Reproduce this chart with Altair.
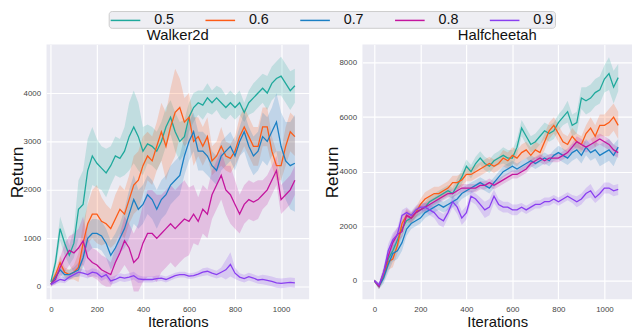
import altair as alt
import pandas as pd

iters = list(range(0, 1061, 20))  # 54 sample iterations
ratios = ["0.5", "0.6", "0.7", "0.8", "0.9"]
colors = ["#1fa99c", "#fd5b16", "#1a7fc4", "#c4159e", "#8a3ff0"]

# ---------------- Walker2d (mean returns) ----------------
walker_05 = [100, 500, 1200, 900, 650, 900, 1600, 1700, 2400, 2700,
             2550, 2450, 2350, 2500, 2700, 2650, 2800, 3100, 3300, 3100,
             2800, 2950, 2900, 2800, 3000, 3300, 3500, 3200, 3000, 3100,
             3500, 3700, 3800, 3750, 3900, 3800, 3900, 3800, 3700, 3800,
             3700, 3800, 3600, 3800, 3900, 4000, 4100, 4000, 4200, 4300,
             4350, 4200, 4050, 4150]
walker_06 = [50, 250, 500, 300, 250, 300, 400, 900, 1300, 1500,
             1500, 1350, 1300, 1200, 1400, 1600, 1500, 1800, 2100, 2200,
             2500, 2700, 2600, 2900, 3200, 2900, 3300, 3600, 3700, 3400,
             3500, 3000, 3100, 2900, 3100, 2600, 2700, 2900, 2700, 2650,
             2800, 3100, 3300, 3100, 2900, 2900, 3300, 3300, 2800, 2500,
             2500, 2900, 3200, 3100]
walker_07 = [50, 200, 350, 250, 250, 300, 350, 600, 1000, 1100,
             1100, 1050, 900, 650, 800, 1000, 1200, 1500, 1800, 1600,
             1700, 1900, 1800, 1600, 1800, 1900, 2100, 2200, 2300, 2700,
             3000, 3200, 2800, 2800, 2700, 2500, 2400, 2700, 2800, 2900,
             2700, 3000, 3200, 2900, 2700, 2800, 3100, 3000, 3200, 3400,
             2900, 2600, 2500, 2550]
walker_08 = [50, 150, 400, 600, 750, 700, 800, 950, 600, 500,
             450, 350, 300, 250, 500, 700, 950, 800, 500, 600,
             900, 1100, 1100, 1000, 1100, 1200, 1300, 1200, 1300, 1400,
             1350, 1500, 1350, 1600, 1500, 1900, 2100, 2300, 2000, 1900,
             1700, 1500, 1700, 1800, 1750, 1800, 1900, 2000, 2200, 2400,
             1800, 1900, 2000, 2200]
walker_09 = [50, 100, 150, 130, 200, 250, 300, 280, 250, 300,
             280, 200, 250, 120, 150, 200, 180, 200, 230, 160,
             150, 150, 150, 170, 180, 150, 190, 230, 250, 250,
             220, 230, 260, 300, 320, 280, 250, 300, 350, 460,
             280, 200, 170, 210, 180, 140, 150, 130, 110, 80,
             70, 80, 90, 80]

# Walker2d band half-widths
walker_05_sd = [50, 150, 250, 250, 200, 300, 600, 700, 650, 600,
                500, 450, 500, 400, 400, 400, 500, 700, 750, 700,
                500, 400, 400, 400, 400, 400, 350, 400, 400, 350,
                300, 300, 250, 300, 300, 250, 250, 300, 250, 250,
                250, 250, 200, 250, 300, 300, 300, 350, 350, 350,
                400, 400, 400, 350]
walker_06_sd = [50, 100, 150, 100, 100, 150, 300, 400, 400, 500,
                600, 500, 400, 400, 500, 500, 500, 500, 600, 600,
                600, 500, 500, 500, 600, 700, 800, 900, 600, 500,
                500, 500, 400, 400, 400, 300, 300, 400, 300, 300,
                300, 400, 400, 400, 400, 400, 400, 400, 300, 300,
                300, 400, 400, 400]
walker_07_sd = [50, 100, 100, 100, 100, 100, 150, 200, 300, 300,
                300, 300, 300, 300, 300, 300, 400, 500, 500, 400,
                400, 400, 400, 400, 400, 400, 400, 400, 400, 400,
                400, 400, 400, 400, 400, 300, 300, 300, 300, 300,
                300, 300, 400, 400, 400, 400, 500, 500, 500, 600,
                700, 800, 900, 1000]
walker_08_sd = [50, 100, 200, 300, 300, 400, 400, 500, 400, 300,
                300, 300, 300, 250, 300, 400, 500, 500, 600, 700,
                800, 900, 900, 900, 800, 800, 800, 800, 800, 800,
                700, 600, 500, 500, 500, 500, 500, 500, 500, 600,
                500, 400, 400, 400, 400, 400, 300, 300, 300, 300,
                300, 300, 300, 300]
walker_09_sd = [30, 50, 60, 60, 60, 60, 80, 80, 80, 80,
                80, 80, 80, 80, 80, 80, 80, 80, 80, 80,
                60, 60, 60, 60, 60, 60, 60, 60, 60, 60,
                60, 60, 60, 80, 80, 80, 80, 100, 200, 250,
                120, 80, 80, 80, 80, 80, 100, 100, 100, 100,
                100, 100, 100, 100]

# ---------------- Halfcheetah (mean returns) ----------------
cheetah_05 = [0, -200, 200, 800, 1100, 1500, 1900, 2200, 2300, 2500,
              2600, 2700, 2900, 3000, 3100, 3200, 3300, 3200, 3500, 3800,
              4200, 4000, 4300, 4500, 4300, 4200, 4400, 4500, 4600, 4500,
              4500, 4900, 5600, 5300, 5000, 5100, 5300, 5500, 5400, 5500,
              5800, 6000, 6200, 5700, 5800, 6700, 6600, 6700, 6900, 7000,
              7400, 7600, 7100, 7450]
cheetah_06 = [0, -200, 200, 700, 800, 1300, 2100, 2400, 2300, 2500,
              2800, 3000, 3100, 3200, 3200, 3300, 3400, 3600, 3600, 3700,
              3900, 3900, 4000, 4100, 4200, 4300, 4200, 4300, 4500, 4400,
              4600, 4500, 4700, 4800, 4600, 4800, 4700, 5100, 5500, 5700,
              5400, 5100, 5000, 5300, 5100, 5000, 5400, 5600, 5300, 5700,
              5700, 5800, 6000, 5700]
cheetah_07 = [0, -200, 100, 600, 1000, 1100, 1400, 1900, 2100, 2200,
              2300, 2500, 2600, 2700, 2800, 2700, 2800, 2900, 3000, 3200,
              3300, 3400, 3500, 3600, 3500, 3400, 3600, 3800, 4000, 4100,
              4200, 4100, 4200, 4300, 4400, 4300, 4400, 4500, 4400, 4600,
              4700, 4600, 4500, 4700, 4800, 4600, 4900, 4700, 4800, 4600,
              4700, 4800, 4600, 4900]
cheetah_08 = [0, -200, 300, 900, 1400, 1700, 1800, 2400, 2300, 2500,
              2600, 2700, 2800, 2900, 3000, 3100, 3200, 3200, 3300, 3400,
              3400, 3400, 3400, 3500, 3500, 3600, 3500, 3600, 3700, 3800,
              3900, 3900, 4000, 4100, 4300, 4400, 4500, 4400, 4500, 4500,
              4500, 4600, 4700, 4900, 5100, 5000, 4900, 5000, 5100, 5200,
              5100, 5000, 4800, 4700]
cheetah_09 = [0, -150, 300, 1100, 1500, 1700, 2400, 2500, 2400, 2600,
              2700, 2700, 2600, 2500, 2300, 2200, 2500, 2900, 2700, 2300,
              2500, 3100, 3000, 2800, 2600, 2700, 3100, 2800, 2700, 2700,
              2600, 2600, 2700, 2600, 2700, 2800, 2800, 2900, 2900, 3000,
              2900, 3000, 3100, 3000, 2900, 3000, 3200, 3300, 3050, 3200,
              3400, 3400, 3300, 3350]

# Halfcheetah band half-widths
cheetah_05_sd = [50, 100, 200, 300, 300, 300, 300, 250, 200, 200,
                 200, 200, 200, 200, 200, 200, 200, 200, 250, 250,
                 250, 250, 250, 250, 250, 250, 250, 250, 300, 300,
                 300, 300, 300, 300, 300, 300, 300, 300, 300, 300,
                 300, 300, 400, 400, 400, 400, 500, 500, 500, 500,
                 500, 600, 600, 500]
cheetah_06_sd = [50, 100, 200, 300, 300, 300, 250, 250, 200, 200,
                 200, 250, 250, 250, 250, 250, 250, 250, 250, 250,
                 250, 250, 250, 250, 250, 250, 250, 250, 300, 300,
                 300, 300, 300, 300, 300, 300, 300, 300, 300, 300,
                 300, 300, 300, 300, 300, 300, 300, 400, 400, 400,
                 400, 500, 500, 500]
cheetah_07_sd = [50, 100, 200, 300, 300, 300, 300, 250, 200, 200,
                 200, 200, 200, 200, 200, 200, 200, 200, 200, 200,
                 200, 200, 200, 200, 200, 200, 200, 200, 200, 200,
                 200, 200, 200, 200, 200, 200, 200, 200, 200, 200,
                 250, 250, 250, 300, 300, 300, 300, 300, 300, 400,
                 400, 400, 400, 300]
cheetah_08_sd = [50, 100, 200, 250, 250, 250, 200, 200, 150, 150,
                 150, 150, 150, 150, 150, 150, 150, 150, 150, 150,
                 150, 150, 150, 150, 150, 150, 150, 150, 150, 150,
                 150, 150, 150, 150, 150, 150, 150, 150, 150, 150,
                 150, 150, 150, 150, 200, 200, 200, 200, 200, 200,
                 200, 200, 200, 200]
cheetah_09_sd = [50, 100, 200, 250, 250, 250, 200, 200, 150, 150,
                 150, 150, 200, 200, 250, 250, 200, 200, 250, 250,
                 250, 200, 200, 250, 300, 300, 250, 200, 200, 200,
                 200, 200, 150, 150, 150, 150, 150, 150, 150, 150,
                 150, 150, 150, 150, 200, 200, 200, 250, 200, 200,
                 200, 200, 200, 200]

panels = {
    "Walker2d": ([walker_05, walker_06, walker_07, walker_08, walker_09],
                 [walker_05_sd, walker_06_sd, walker_07_sd, walker_08_sd, walker_09_sd]),
    "Halfcheetah": ([cheetah_05, cheetah_06, cheetah_07, cheetah_08, cheetah_09],
                    [cheetah_05_sd, cheetah_06_sd, cheetah_07_sd, cheetah_08_sd, cheetah_09_sd]),
}

rows = []
for pname, (series, sds) in panels.items():
    for r, vals, sd in zip(ratios, series, sds):
        for it, v, s in zip(iters, vals, sd):
            rows.append({"panel": pname, "ratio": r, "band": "b" + r, "it": it,
                         "val": v, "lo": v - s, "hi": v + s})
df = pd.DataFrame(rows)

FONT = "Liberation Sans"
xticks = [0, 200, 400, 600, 800, 1000]
band_keys = ["b" + r for r in ratios]


def make_panel(name, width, xdom, ydom, yticks):
    d = df[df["panel"] == name]
    base = alt.Chart(d)
    xenc = alt.X("it:Q", scale=alt.Scale(domain=xdom, nice=False, zero=False),
                 axis=alt.Axis(values=xticks, title="Iterations", format="d"))
    yscale = alt.Scale(domain=ydom, nice=False, zero=False)
    band = base.mark_area(opacity=0.2, clip=True).encode(
        x=xenc,
        y=alt.Y("lo:Q", scale=yscale,
                axis=alt.Axis(values=yticks, title="Return", format="d")),
        y2="hi:Q",
        fill=alt.Fill("band:N", scale=alt.Scale(domain=band_keys, range=colors), legend=None),
    )
    line = base.mark_line(strokeWidth=1.3, clip=True).encode(
        x=xenc,
        y=alt.Y("val:Q", scale=yscale),
        color=alt.Color("ratio:N", scale=alt.Scale(domain=ratios, range=colors),
                        legend=alt.Legend(title=None, orient="none", direction="horizontal",
                                          columns=5, legendX=63, legendY=-34)),
    )
    return alt.layer(band, line).properties(width=width, height=258, title=name)


left = make_panel("Walker2d", 266, [-19, 1122], [-260, 5000], [0, 1000, 2000, 3000, 4000])
right = make_panel("Halfcheetah", 273, [-52, 1120], [-680, 8660], [0, 2000, 4000, 6000, 8000])

chart = alt.hconcat(left, right, spacing=15).properties(
    padding=0
).configure_view(
    fill="#eaeaf2", stroke=None
).configure_axis(
    grid=True, gridColor="#ffffff", gridWidth=1.2, domain=False, ticks=False,
    labelFont=FONT, labelFontSize=8, labelColor="#444444", labelPadding=6,
    titleFont=FONT, titleFontWeight="normal", titleColor="#111111",
).configure_axisY(
    titleFontSize=17.5, titlePadding=-3,
).configure_axisX(
    titleFontSize=15, titlePadding=2,
).configure_title(
    font=FONT, fontSize=15, fontWeight="normal", color="#111111", offset=2,
).configure_legend(
    symbolType="M-1,0H3", symbolSize=225, symbolStrokeWidth=1.5, symbolOpacity=1,
    labelFont=FONT, labelFontSize=14.5, labelColor="#111111", labelOffset=28,
    columnPadding=28, padding=1, fillColor="#eeeef3", strokeColor="#cccccc",
    cornerRadius=3,
)

chart.save("out.html", embed_options={"renderer": "svg", "actions": False})
